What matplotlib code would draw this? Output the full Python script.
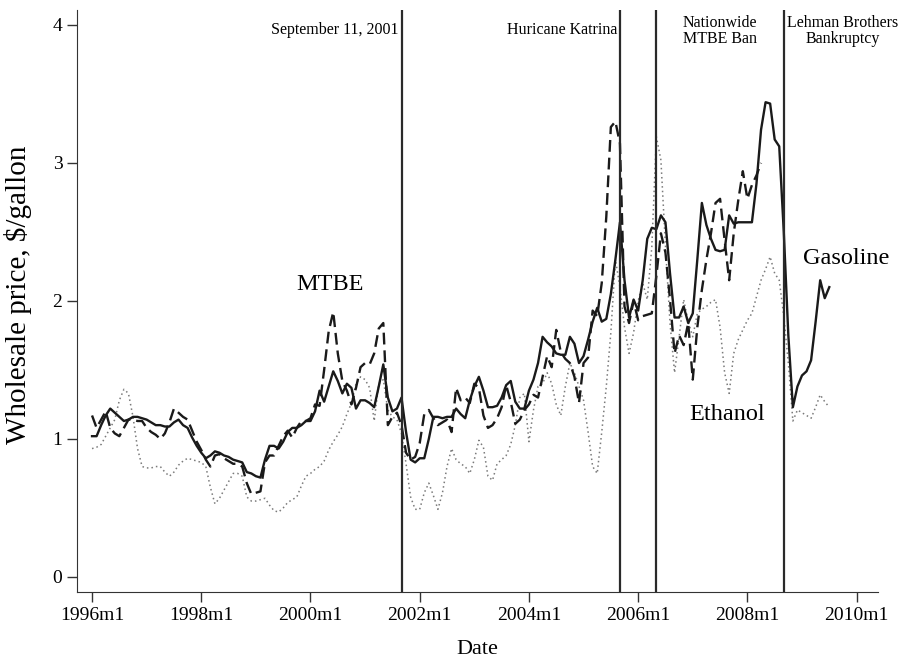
import numpy as np
import matplotlib.pyplot as plt

plt.rcParams["font.family"] = ["Liberation Serif", "DejaVu Serif"]

# Monthly wholesale prices, $/gallon, starting 1996m1
gasoline = [
    1.02, 1.02, 1.10, 1.17, 1.22, 1.19, 1.16, 1.13, 1.14, 1.16, 1.16, 1.15,  # 1996
    1.14, 1.12, 1.10, 1.10, 1.09, 1.09, 1.12, 1.14, 1.10, 1.08, 1.01, 0.95,  # 1997
    0.90, 0.86, 0.88, 0.91, 0.90, 0.88, 0.87, 0.85, 0.84, 0.83, 0.76, 0.75,  # 1998
    0.73, 0.72, 0.85, 0.95, 0.95, 0.93, 0.98, 1.05, 1.08, 1.08, 1.10, 1.13,  # 1999
    1.13, 1.20, 1.35, 1.27, 1.38, 1.49, 1.42, 1.33, 1.40, 1.37, 1.22, 1.28,  # 2000
    1.28, 1.26, 1.23, 1.38, 1.54, 1.30, 1.20, 1.22, 1.30, 1.05, 0.85, 0.83,  # 2001
    0.86, 0.86, 1.00, 1.16, 1.16, 1.15, 1.16, 1.16, 1.22, 1.18, 1.15, 1.28,  # 2002
    1.38, 1.45, 1.35, 1.23, 1.23, 1.24, 1.30, 1.39, 1.42, 1.27, 1.22, 1.22,  # 2003
    1.35, 1.43, 1.55, 1.74, 1.70, 1.67, 1.62, 1.61, 1.61, 1.74, 1.69, 1.55,  # 2004
    1.60, 1.72, 1.85, 1.95, 1.85, 1.87, 2.05, 2.30, 2.57, 2.15, 1.88, 2.01,  # 2005
    1.93, 2.15, 2.45, 2.53, 2.52, 2.62, 2.57, 2.20, 1.88, 1.88, 1.96, 1.84,  # 2006
    1.91, 2.30, 2.71, 2.55, 2.45, 2.37, 2.36, 2.37, 2.62, 2.56, 2.57, 2.57,  # 2007
    2.57, 2.57, 2.85, 3.24, 3.44, 3.43, 3.17, 3.12, 2.50, 1.75, 1.23, 1.38,  # 2008
    1.46, 1.49, 1.57, 1.85, 2.15, 2.02, 2.10,                                # 2009
]

mtbe = [
    1.17, 1.08, 1.14, 1.20, 1.08, 1.04, 1.02, 1.08, 1.14, 1.14, 1.13, 1.13,
    1.08, 1.05, 1.03, 1.00, 1.04, 1.12, 1.22, 1.19, 1.16, 1.14, 1.06, 0.98,
    0.92, 0.85, 0.80, 0.88, 0.89, 0.86, 0.84, 0.82, 0.82, 0.80, 0.68, 0.60,
    0.61, 0.62, 0.83, 0.88, 0.88, 0.95, 1.02, 1.06, 1.01, 1.08, 1.13, 1.13,
    1.15, 1.25, 1.24, 1.50, 1.78, 1.92, 1.62, 1.42, 1.35, 1.25, 1.37, 1.52,
    1.55, 1.54, 1.62, 1.80, 1.84, 1.10, 1.16, 1.19, 1.10, 0.90, 0.85, 0.87,
    0.97, 1.18, 1.21, 1.15, 1.10, 1.12, 1.14, 1.05, 1.37, 1.28, 1.30, 1.26,
    1.40, 1.37, 1.17, 1.08, 1.10, 1.15, 1.23, 1.39, 1.27, 1.11, 1.14, 1.21,
    1.25, 1.32, 1.30, 1.45, 1.60, 1.52, 1.79, 1.63, 1.58, 1.55, 1.45, 1.26,
    1.55, 1.59, 1.93, 1.89, 2.13, 2.61, 3.26, 3.30, 3.14, 1.96, 1.84, 2.00,
    1.86, 1.89, 1.90, 1.91, 2.18, 2.49, 2.35, 2.01, 1.62, 1.75, 1.68, 1.84,
    1.43, 1.81, 2.08, 2.30, 2.49, 2.71, 2.74, 2.44, 2.15, 2.49, 2.73, 2.94,
    2.74, 2.84, 2.91, 3.00,
]

ethanol = [
    0.93, 0.94, 0.96, 1.02, 1.08, 1.14, 1.28, 1.36, 1.33, 1.16, 0.93, 0.80,
    0.79, 0.79, 0.80, 0.80, 0.76, 0.73, 0.76, 0.81, 0.84, 0.86, 0.85, 0.84,
    0.83, 0.80, 0.65, 0.53, 0.57, 0.63, 0.69, 0.75, 0.75, 0.73, 0.58, 0.55,
    0.55, 0.56, 0.57, 0.52, 0.48, 0.47, 0.50, 0.54, 0.56, 0.58, 0.66, 0.73,
    0.75, 0.78, 0.80, 0.84, 0.92, 0.98, 1.03, 1.09, 1.18, 1.26, 1.40, 1.45,
    1.43, 1.37, 1.13, 1.40, 1.43, 1.21, 1.16, 1.14, 1.04, 0.82, 0.58, 0.49,
    0.49, 0.61, 0.68, 0.59, 0.49, 0.61, 0.80, 0.93, 0.85, 0.82, 0.80, 0.75,
    0.85, 0.99, 0.94, 0.73, 0.70, 0.82, 0.85, 0.88, 0.96, 1.10, 1.30, 1.33,
    0.98, 1.21, 1.38, 1.40, 1.48, 1.40, 1.25, 1.17, 1.38, 1.55, 1.48, 1.38,
    1.28, 1.05, 0.80, 0.75, 1.05, 1.38, 1.77, 2.30, 2.10, 1.81, 1.62, 1.77,
    2.00, 2.13, 2.01, 2.39, 3.19, 3.02, 2.40, 1.84, 1.48, 1.74, 2.01, 1.85,
    1.74, 1.91, 1.94, 1.96, 1.99, 2.01, 1.81, 1.48, 1.33, 1.62, 1.72, 1.79,
    1.86, 1.91, 2.03, 2.15, 2.23, 2.32, 2.20, 2.15, 1.89, 1.55, 1.13, 1.21,
    1.19, 1.17, 1.15, 1.23, 1.32, 1.27, 1.23,
]

# events marked with vertical lines: (year, month, label)
events = [
    (2001, 9, "September 11, 2001"),
    (2005, 9, "Huricane Katrina"),
    (2006, 5, "Nationwide\nMTBE Ban"),
    (2008, 9, "Lehman Brothers\nBankruptcy"),
]

tick_years = [1996, 1998, 2000, 2002, 2004, 2006, 2008, 2010]


def month_index(year, month):
    return (year - 1996) * 12 + (month - 1)


fig = plt.figure(figsize=(9.03, 6.63), dpi=100)
ax = fig.add_axes([0.0853, 0.1071, 0.887, 0.878])

ax.plot(np.arange(len(ethanol)), ethanol, color="#7a7a7a", lw=1.1,
        linestyle=(0, (1, 2)))
ax.plot(np.arange(len(mtbe)), mtbe, color="#1a1a1a", lw=1.7,
        linestyle=(0, (5, 2.5)))
ax.plot(np.arange(len(gasoline)), gasoline, color="#1a1a1a", lw=1.7)

event_x = [month_index(y, m) for y, m, _ in events]
for x in event_x:
    ax.axvline(x, color="#2a2a2a", lw=1.6)

# event captions along the top
ax.text(event_x[0] - 0.6, 3.96, events[0][2], ha="right", va="center",
        fontsize=11.5)
ax.text(event_x[1] - 0.6, 3.96, events[1][2], ha="right", va="center",
        fontsize=11.5)
ax.text((event_x[2] + event_x[3]) / 2, 4.07, events[2][2], ha="center",
        va="top", fontsize=11.5, linespacing=0.95)
ax.text(event_x[3] + 13, 4.07, events[3][2], ha="center",
        va="top", fontsize=11.5, linespacing=0.95)

# series labels
ax.text(52.3, 2.12, "MTBE", ha="center", va="center", fontsize=17.5)
ax.text(165.7, 2.31, "Gasoline", ha="center", va="center", fontsize=17.5)
ax.text(139.5, 1.18, "Ethanol", ha="center", va="center", fontsize=17.5)

ax.set_xlim(-3.3, 172.7)
ax.set_ylim(-0.109, 4.109)

ax.set_xticks([month_index(y, 1) for y in tick_years])
ax.set_xticklabels([f"{y}m1" for y in tick_years])
ax.set_yticks([0, 1, 2, 3, 4])
ax.tick_params(axis="both", labelsize=14, length=7, width=1,
               color="#333333", direction="out")

ax.spines["top"].set_visible(False)
ax.spines["right"].set_visible(False)
ax.spines["left"].set_color("#333333")
ax.spines["bottom"].set_color("#333333")

ax.set_xlabel("Date", fontsize=16, labelpad=12)
ax.set_ylabel("Wholesale price, $/gallon", fontsize=21)
ax.yaxis.set_label_coords(-0.056, 0.511)

fig.savefig("out.png", dpi=100)
